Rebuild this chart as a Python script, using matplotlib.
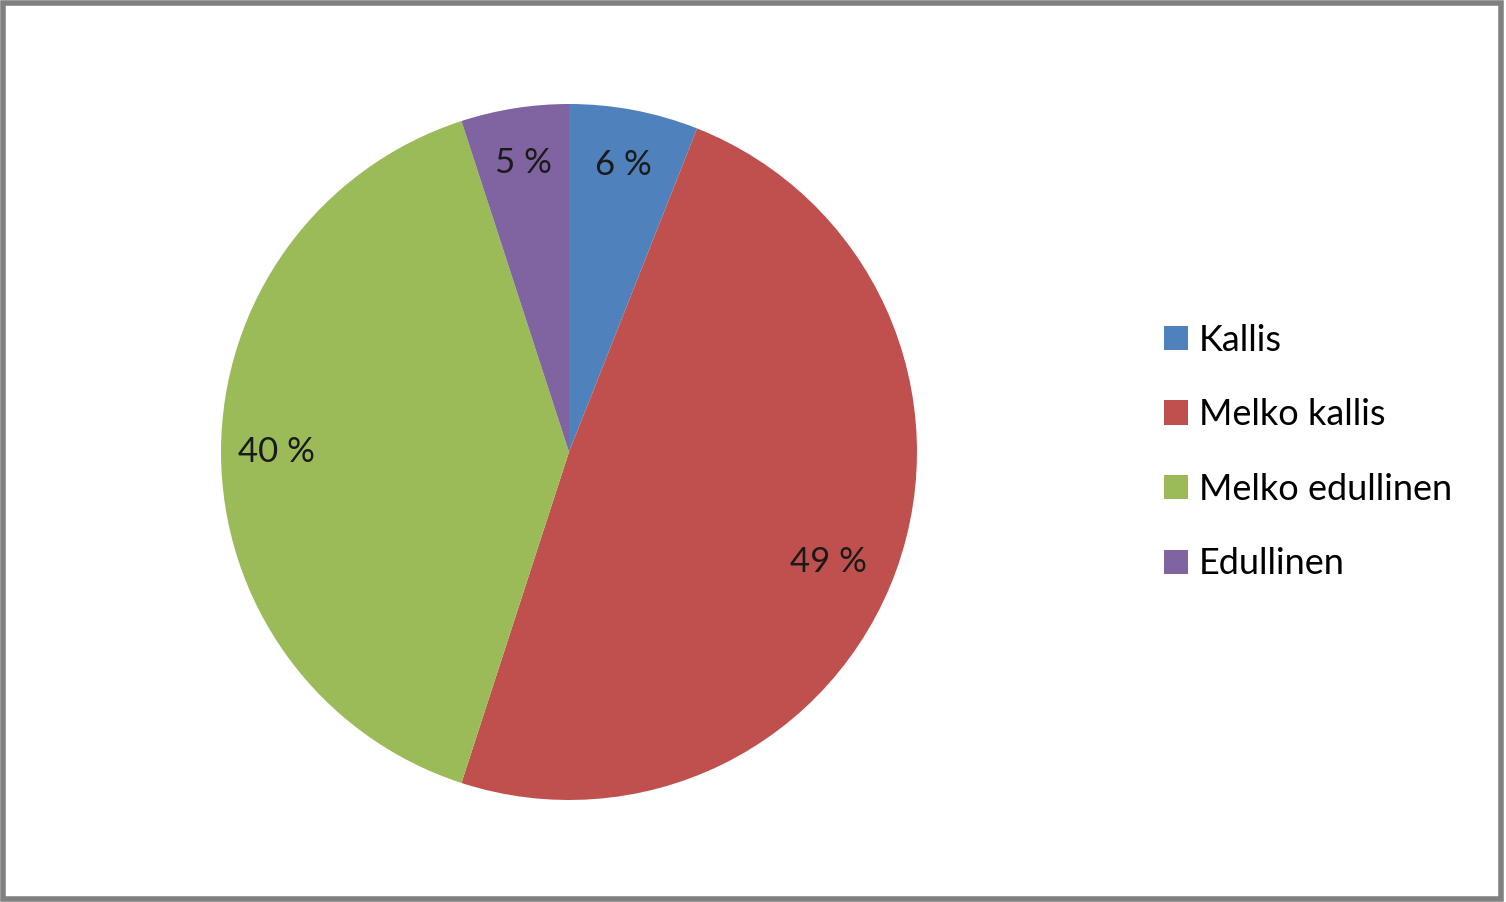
import numpy as np
import matplotlib.pyplot as plt
from matplotlib.patches import Patch, Rectangle

plt.rcParams['font.family'] = ['Lato', 'DejaVu Sans']

labels = ['Kallis', 'Melko kallis', 'Melko edullinen', 'Edullinen']
values = [6, 49, 40, 5]
colors = ['#4F81BD', '#C0504D', '#9BBB59', '#8064A2']

fig = plt.figure(figsize=(15.06, 9.02), dpi=100)
W, H = 1506, 902
cx, cy, r = 569, 452, 348
ax = fig.add_axes([(cx - r) / W, (H - cy - r) / H, 2 * r / W, 2 * r / H])

wedges, texts, autotexts = ax.pie(values, colors=colors, startangle=90, counterclock=False,
                                  autopct=lambda p: f'{p:.0f} %', pctdistance=0.84,
                                  wedgeprops=dict(linewidth=0),
                                  textprops=dict(fontsize=25, color='#1a1a1a'))
# excel puts the big slice label a bit lower
ang = np.deg2rad(-23)
autotexts[1].set_position((0.81 * np.cos(ang), 0.81 * np.sin(ang)))
ax.set_xlim(-1, 1)
ax.set_ylim(-1, 1)
ax.set_aspect('equal')

handles = [Patch(facecolor=c, edgecolor='none', label=l) for c, l in zip(colors, labels)]
fig.legend(handles=handles, loc='center left', bbox_to_anchor=(1150 / W, 1 - 452 / H),
           frameon=False, fontsize=26, handlelength=0.65, handleheight=0.65,
           handletextpad=0.3, labelspacing=1.15, borderaxespad=0)

# grey frame round the picture
fig.patches.append(Rectangle((0.002, 0.003), 0.995, 0.994, transform=fig.transFigure,
                             fill=False, edgecolor='#808080', linewidth=4))

fig.savefig('out.png', dpi=100)
plt.close(fig)
